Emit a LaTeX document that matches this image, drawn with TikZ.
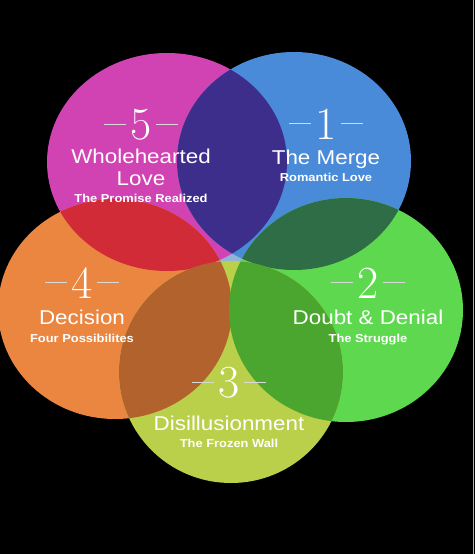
\documentclass[tikz,border=0pt]{standalone}
\usepackage{fontspec}
\newfontfamily\headfont[FakeStretch=1.12]{Liberation Sans}
\usetikzlibrary{positioning}
\definecolor{cMag}{HTML}{D143B2}
\definecolor{cBlue}{HTML}{4A8BD9}
\definecolor{cGreen}{HTML}{5ED94F}
\definecolor{cOrange}{HTML}{EB8641}
\definecolor{cLime}{HTML}{BAD04A}
\definecolor{cPurple}{HTML}{3E2E8C}
\definecolor{cRed}{HTML}{D22B38}
\definecolor{cDkGreen}{HTML}{2F6D47}
\definecolor{cBrown}{HTML}{B2622C}
\definecolor{cMidGreen}{HTML}{4BA62F}
\definecolor{cGlow}{HTML}{8FB4D6}

\begin{document}
\begin{tikzpicture}[
		x=1pt, y=1pt,
		% petal outlines
		pMag/.style={insert path={(167,-162) ellipse [x radius=120, y radius=109]}},
		pBlue/.style={insert path={(294,-161) ellipse [x radius=117, y radius=109]}},
		pGreen/.style={insert path={(346,-310) ellipse [x radius=117, y radius=112]}},
		pOrange/.style={insert path={(115,-309) ellipse [x radius=117, y radius=110]}},
		pLime/.style={insert path={(231,-372) ellipse [x radius=112, y radius=111]}},
		num/.style={font=\fontsize{46}{46}\selectfont, text=white, inner sep=0pt, anchor=base},
		ttl/.style={font=\headfont\fontsize{20}{22}\selectfont, text=white, inner sep=0pt, anchor=base},
		sub/.style={font=\headfont\bfseries\fontsize{11.5}{13}\selectfont, text=white, inner sep=0pt, anchor=base},
		rule/.style={white!85!black, line width=0.8pt}
		]
		
		% ==========================================
		% BACKGROUND
		% ==========================================
		\fill[black] (0,0) rectangle (475,-554);
		\useasboundingbox (0,0) rectangle (475,-554);
		\draw[gray!60, line width=1pt] (473.5,0) -- (473.5,-554);
		
		% light spot where the petals meet
		\fill[cGlow] (232,-258) ellipse [x radius=14, y radius=12];
		
		% ==========================================
		% PETALS
		% ==========================================
		\fill[cMag, pMag];
		\fill[cBlue, pBlue];
		\fill[cGreen, pGreen];
		\fill[cOrange, pOrange];
		\fill[cLime, pLime];
		
		% overlaps
		\begin{scope}
			\clip[pMag];
			\fill[cPurple, pBlue];
		\end{scope}
		\begin{scope}
			\clip[pMag];
			\fill[cRed, pOrange];
		\end{scope}
		\begin{scope}
			\clip[pBlue];
			\fill[cDkGreen, pGreen];
		\end{scope}
		\begin{scope}
			\clip[pOrange];
			\fill[cBrown, pLime];
		\end{scope}
		\begin{scope}
			\clip[pGreen];
			\fill[cMidGreen, pLime];
		\end{scope}
		
		% ==========================================
		% 5: Wholehearted Love
		% ==========================================
		\node[num] (n5) at (141,-139) {5};
		\node[ttl] (t5a) at (141,-163) {Wholehearted};
		\node[ttl] (t5b) at (141,-185) {Love};
		\node[sub] (s5) at (141,-202) {The Promise Realized};
		\draw[rule] ([xshift=-4pt]n5.west) -- ++(-22,0);
		\draw[rule] ([xshift=4pt]n5.east) -- ++(22,0);
		
		% ==========================================
		% 1: The Merge
		% ==========================================
		\node[num] (n1) at (326,-139) {1};
		\node[ttl] (t1) at (326,-164) {The Merge};
		\node[sub] (s1) at (326,-181) {Romantic Love};
		\draw[rule] ([xshift=-4pt]n1.west) -- ++(-22,0);
		\draw[rule] ([xshift=4pt]n1.east) -- ++(22,0);
		
		% ==========================================
		% 4: Decision
		% ==========================================
		\node[num] (n4) at (82,-298) {4};
		\node[ttl] (t4) at (82,-324) {Decision};
		\node[sub] (s4) at (82,-342) {Four Possibilites};
		\draw[rule] ([xshift=-4pt]n4.west) -- ++(-22,0);
		\draw[rule] ([xshift=4pt]n4.east) -- ++(22,0);
		
		% ==========================================
		% 2: Doubt & Denial
		% ==========================================
		\node[num] (n2) at (368,-298) {2};
		\node[ttl] (t2) at (368,-324) {Doubt \& Denial};
		\node[sub] (s2) at (368,-342) {The Struggle};
		\draw[rule] ([xshift=-4pt]n2.west) -- ++(-22,0);
		\draw[rule] ([xshift=4pt]n2.east) -- ++(22,0);
		
		% ==========================================
		% 3: Disillusionment
		% ==========================================
		\node[num] (n3) at (229,-397) {3};
		\node[ttl] (t3) at (229,-430) {Disillusionment};
		\node[sub] (s3) at (229,-447) {The Frozen Wall};
		\draw[rule] ([xshift=-4pt]n3.west) -- ++(-22,0);
		\draw[rule] ([xshift=4pt]n3.east) -- ++(22,0);
		
	\end{tikzpicture}
\end{document}
